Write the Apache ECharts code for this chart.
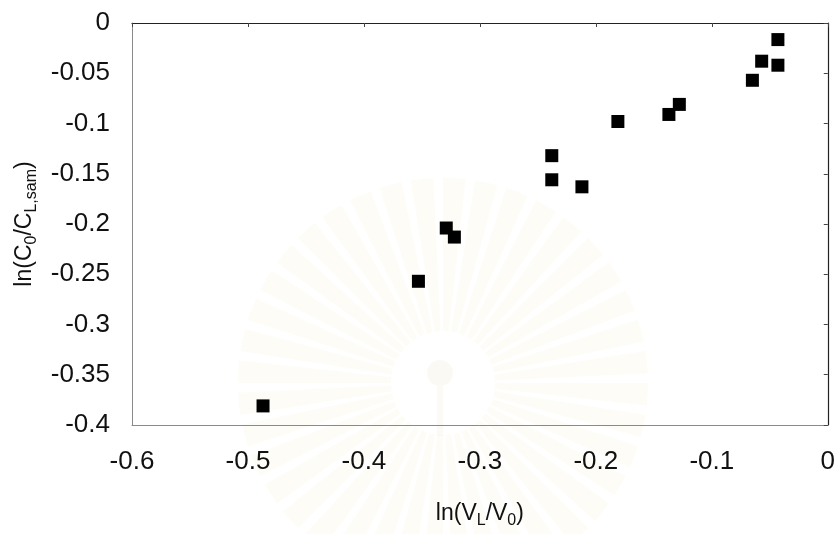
<!DOCTYPE html>
<html>
<head>
<meta charset="utf-8">
<script src="https://cdn.jsdelivr.net/npm/echarts@6/dist/echarts.min.js"></script>
<style>
html,body{margin:0;padding:0;background:#fff;}
#chart{width:838px;height:534px;}
</style>
</head>
<body>
<div id="chart"></div>
<script>
// Data
var xValues = [-0.043, -0.057, -0.043, -0.065, -0.128, -0.137, -0.181, -0.238, -0.238, -0.212, -0.329, -0.322, -0.353, -0.487];
var yValues = [-0.0165, -0.038, -0.042, -0.057, -0.081, -0.091, -0.098, -0.132, -0.156, -0.163, -0.204, -0.213, -0.257, -0.381];
var xTicks = [-0.6, -0.5, -0.4, -0.3, -0.2, -0.1, 0];
var yTicks = [-0.4, -0.35, -0.3, -0.25, -0.2, -0.15, -0.1, -0.05, 0];

var points = xValues.map(function (x, i) { return [x, yValues[i]]; });

// faint watermark seal (decoration only)
var petals = [];
for (var k = 0; k < 40; k++) {
  var a = k * Math.PI * 2 / 40;
  petals.push({
    type: 'sector', silent: true, z: -10,
    shape: {cx: 443, cy: 383, r0: 52, r: 205, startAngle: a, endAngle: a + 0.11},
    style: {fill: 'rgba(240,228,185,0.12)'}
  });
}
petals.push({
  type: 'circle', silent: true, z: -10,
  shape: {cx: 440, cy: 373, r: 13},
  style: {fill: 'rgba(230,218,175,0.15)'}
});
petals.push({
  type: 'rect', silent: true, z: -10,
  shape: {x: 437, y: 386, width: 6, height: 50},
  style: {fill: 'rgba(230,218,175,0.13)'}
});

var chart = echarts.init(document.getElementById('chart'), null, {renderer: 'canvas'});
var font = 'Liberation Sans, Arial, sans-serif';
var subRich = {
  a: {fontSize: 23, fontFamily: font, color: '#111'},
  s: {fontSize: 16, fontFamily: font, color: '#111', padding: [14, 0, 0, 0]}
};
chart.setOption({
  backgroundColor: '#fff',
  animation: false,
  graphic: petals,
  grid: {left: 132, right: 8, top: 23, bottom: 99, containLabel: false},
  xAxis: [{
    type: 'value', position: 'bottom',
    min: xTicks[0], max: xTicks[xTicks.length - 1], interval: 0.1,
    axisLine: {onZero: false, lineStyle: {color: '#8a8a8a', width: 1}},
    axisTick: {show: false},
    splitLine: {show: false},
    axisLabel: {fontSize: 26, fontFamily: font, color: '#111', margin: 24},
    name: '{a|ln(V}{s|L}{a|/V}{s|0}{a|)}',
    nameLocation: 'middle', nameGap: 74,
    nameTextStyle: {rich: subRich}
  }, {
    type: 'value', position: 'top',
    min: xTicks[0], max: xTicks[xTicks.length - 1], interval: 0.1,
    axisLine: {onZero: false, lineStyle: {color: '#222', width: 1.2}},
    axisTick: {show: true, inside: true, length: 4, lineStyle: {color: '#444'}},
    splitLine: {show: false},
    axisLabel: {show: false}
  }],
  yAxis: [{
    type: 'value', position: 'left',
    min: yTicks[0], max: yTicks[yTicks.length - 1], interval: 0.05,
    axisLine: {onZero: false, lineStyle: {color: '#8a8a8a', width: 1}},
    axisTick: {show: false},
    splitLine: {show: false},
    axisLabel: {fontSize: 26, fontFamily: font, color: '#111', margin: 22},
    name: '{a|ln(C}{s|0}{a|/C}{s|L,sam}{a|)}',
    nameLocation: 'middle', nameGap: 90, nameRotate: 90,
    nameTextStyle: {rich: subRich}
  }, {
    type: 'value', position: 'right',
    min: yTicks[0], max: yTicks[yTicks.length - 1], interval: 0.05,
    axisLine: {onZero: false, lineStyle: {color: '#222', width: 1.2}},
    axisTick: {show: true, inside: true, length: 4, lineStyle: {color: '#444'}},
    splitLine: {show: false},
    axisLabel: {show: false}
  }],
  series: [{
    type: 'scatter',
    xAxisIndex: 0, yAxisIndex: 0,
    symbol: 'rect', symbolSize: 13,
    itemStyle: {color: '#000', opacity: 1},
    data: points
  }]
});
</script>
</body>
</html>
